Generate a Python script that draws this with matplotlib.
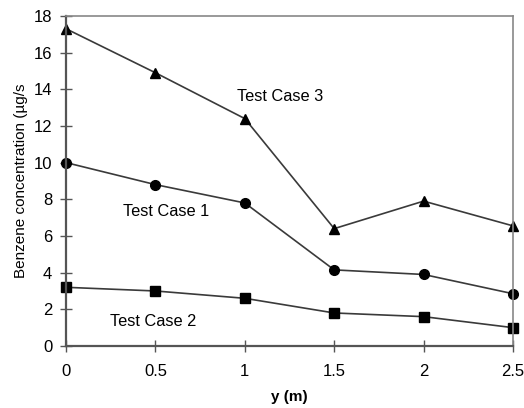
import matplotlib
matplotlib.use('Agg')
from matplotlib import pyplot as plt

plt.rcParams['font.family'] = ['Liberation Sans', 'DejaVu Sans']

# data
y_pos = [0, 0.5, 1, 1.5, 2, 2.5]
case1 = [10.0, 8.8, 7.8, 4.15, 3.9, 2.85]
case2 = [3.2, 3.0, 2.6, 1.8, 1.6, 1.0]
case3 = [17.3, 14.9, 12.4, 6.4, 7.9, 6.55]
xticks = [0, 0.5, 1, 1.5, 2, 2.5]
xtick_labels = ['0', '0.5', '1', '1.5', '2', '2.5']
yticks = [0, 2, 4, 6, 8, 10, 12, 14, 16, 18]

fig = plt.figure(figsize=(5.24, 4.08), dpi=100)
ax = fig.add_axes([0.126, 0.152, 0.853, 0.809])

line_kw = dict(color='#3a3a3a', lw=1.2, ms=7, mfc='black', mec='black', clip_on=False)
ax.plot(y_pos, case3, marker='^', **line_kw)
ax.plot(y_pos, case1, marker='o', **line_kw)
ax.plot(y_pos, case2, marker='s', **line_kw)

# labels beside the lines
ax.text(1.20, 13.6, 'Test Case 3', ha='center', va='center', fontsize=11.8)
ax.text(0.56, 7.35, 'Test Case 1', ha='center', va='center', fontsize=11.8)
ax.text(0.49, 1.36, 'Test Case 2', ha='center', va='center', fontsize=11.8)

ax.set_xlim(0, 2.5)
ax.set_ylim(0, 18)
ax.set_xticks(xticks)
ax.set_xticklabels(xtick_labels)
ax.set_yticks(yticks)
ax.tick_params(direction='inout', length=8, width=1, color='#555555', labelsize=12)
ax.tick_params(axis='x', pad=9)
ax.tick_params(axis='y', pad=6)

for side in ['left', 'bottom']:
    ax.spines[side].set_color('#555555')
    ax.spines[side].set_linewidth(1.6)
for side in ['top', 'right']:
    ax.spines[side].set_color('#888888')
    ax.spines[side].set_linewidth(1.2)

ax.set_xlabel('y (m)', fontsize=11, fontweight='bold', labelpad=8)
ax.set_ylabel('Benzene concentration (µg/s', fontsize=11, labelpad=4)

fig.savefig('out.png', dpi=100)
